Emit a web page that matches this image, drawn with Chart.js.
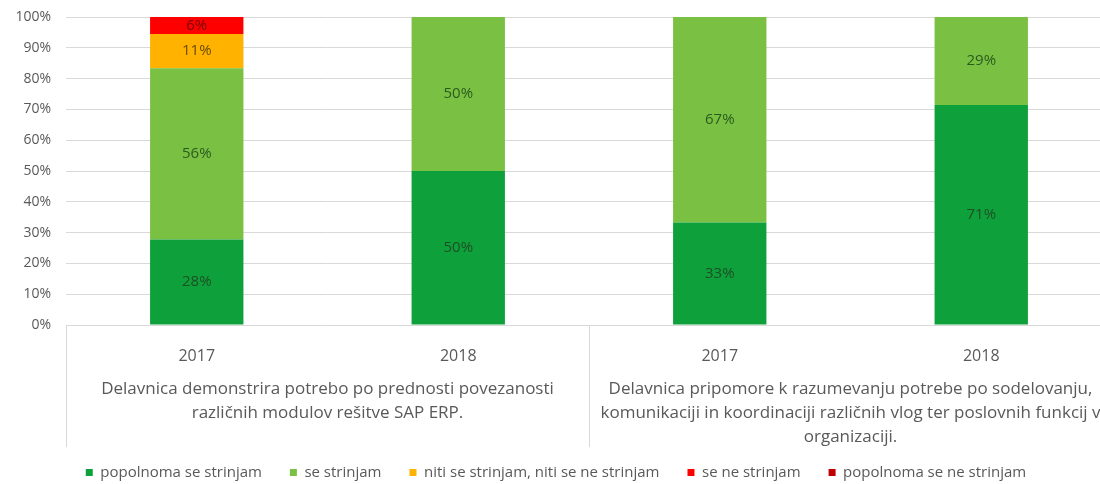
<!DOCTYPE html>
<html>
<head>
<meta charset="utf-8">
<script src="https://cdn.jsdelivr.net/npm/chart.js@4"></script>
<style>
html,body{margin:0;padding:0;background:#fff;overflow:hidden;}
#wrap{position:relative;width:1112px;height:484px;}
</style>
</head>
<body>
<div id="wrap"><canvas id="c"></canvas></div>
<script>
const yearLabels = ['2017', '2018', '2017', '2018'];
const groupLabels = [
  ['Delavnica demonstrira potrebo po prednosti povezanosti', 'različnih modulov rešitve SAP ERP.'],
  ['Delavnica pripomore k razumevanju potrebe po sodelovanju,', 'komunikaciji in koordinaciji različnih vlog ter poslovnih funkcij v', 'organizaciji.']
];
const seriesNames = ['popolnoma se strinjam', 'se strinjam', 'niti se strinjam, niti se ne strinjam', 'se ne strinjam', 'popolnoma se ne strinjam'];
const popolnomaSeStrinjam = [27.8, 50, 33.3, 71.4];
const seStrinjam = [55.6, 50, 66.7, 28.6];
const nitiNiti = [11.1, 0, 0, 0];
const seNeStrinjam = [5.6, 0, 0, 0];
const popolnomaSeNeStrinjam = [0, 0, 0, 0];
const yTicks = [0, 10, 20, 30, 40, 50, 60, 70, 80, 90, 100];

const colors = ['#0ea13b', '#7ac143', '#ffb300', '#ff0000', '#c00000'];
const labelColors = ['#1f4f25', '#2b5a1f', '#6b4a00', '#7a0000', '#4a0000'];
const values = [popolnomaSeStrinjam, seStrinjam, nitiNiti, seNeStrinjam, popolnomaSeNeStrinjam];

const FONT = "'Open Sans', sans-serif";

const valueLabels = {
  id: 'valueLabels',
  afterDatasetsDraw(chart) {
    const ctx = chart.ctx;
    ctx.save();
    ctx.font = '15px ' + FONT;
    ctx.textAlign = 'center';
    ctx.textBaseline = 'middle';
    chart.data.datasets.forEach((ds, di) => {
      const meta = chart.getDatasetMeta(di);
      meta.data.forEach((el, i) => {
        const v = ds.data[i];
        if (!v) return;
        ctx.fillStyle = labelColors[di];
        ctx.fillText(Math.round(v) + '%', el.x, (el.y + el.base) / 2);
      });
    });
    ctx.restore();
  }
};

const groupAxis = {
  id: 'groupAxis',
  afterDraw(chart) {
    const ctx = chart.ctx;
    const xs = chart.scales.x;
    const area = chart.chartArea;
    const catW = (xs.right - xs.left) / yearLabels.length;
    ctx.save();
    ctx.strokeStyle = '#d9d9d9';
    ctx.lineWidth = 1;
    for (let g = 0; g <= groupLabels.length; g++) {
      const x = Math.round(xs.left + g * 2 * catW) + 0.5;
      ctx.beginPath();
      ctx.moveTo(x, area.bottom);
      ctx.lineTo(x, area.bottom + 122);
      ctx.stroke();
    }
    ctx.fillStyle = '#595959';
    ctx.font = '17px ' + FONT;
    ctx.textAlign = 'center';
    ctx.textBaseline = 'middle';
    groupLabels.forEach((lines, g) => {
      const cx = xs.left + (g * 2 + 1) * catW;
      lines.forEach((t, li) => {
        ctx.fillText(t, cx, area.bottom + 64 + li * 24);
      });
    });
    ctx.restore();
  }
};

new Chart(document.getElementById('c'), {
  type: 'bar',
  data: {
    labels: yearLabels,
    datasets: seriesNames.map((n, i) => ({
      label: n,
      data: values[i],
      backgroundColor: colors[i],
      borderWidth: 0,
      barPercentage: 0.357,
      categoryPercentage: 1
    }))
  },
  options: {
    responsive: true,
    maintainAspectRatio: false,
    animation: false,
    layout: { padding: { top: 17, left: 0, right: 0, bottom: 2 } },
    plugins: {
      tooltip: { enabled: false },
      legend: {
        position: 'bottom',
        align: 'center',
        maxHeight: 45,
        labels: {
          font: { family: FONT, size: 15 },
          color: '#595959',
          boxWidth: 7,
          boxHeight: 7,
          padding: 28
        }
      }
    },
    scales: {
      x: {
        stacked: true,
        grid: { display: false },
        border: { display: true, color: '#d9d9d9' },
        ticks: { font: { family: FONT, size: 16 }, color: '#595959', padding: 14 },
        afterFit(s) { s.height = 112; }
      },
      y: {
        stacked: true,
        min: 0,
        max: 100,
        afterBuildTicks(s) { s.ticks = yTicks.map(v => ({ value: v })); },
        grid: { color: '#d9d9d9', drawTicks: false },
        border: { display: false },
        ticks: { font: { family: FONT, size: 14 }, color: '#595959', padding: 15, callback: v => v + '%' },
        afterFit(s) { s.width = 66; s.paddingTop = 0; s.paddingBottom = 0; }
      }
    }
  },
  plugins: [valueLabels, groupAxis]
});
</script>
</body>
</html>
